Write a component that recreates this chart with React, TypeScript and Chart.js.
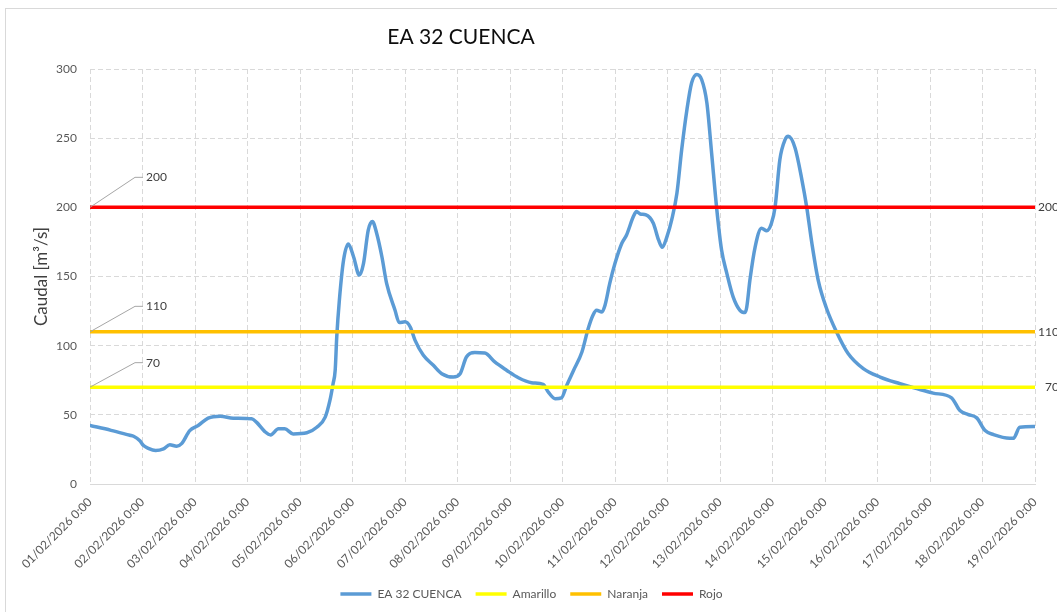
import React, { useEffect, useRef } from 'react';
import { Chart, registerables } from 'chart.js';

Chart.register(...registerables);

const chartTitle = 'EA 32 CUENCA';
const yAxisTitle = 'Caudal [m³/s]';
const seriesName = 'EA 32 CUENCA';

const tickLabels = [
  '01/02/2026 0:00', '02/02/2026 0:00', '03/02/2026 0:00', '04/02/2026 0:00',
  '05/02/2026 0:00', '06/02/2026 0:00', '07/02/2026 0:00', '08/02/2026 0:00',
  '09/02/2026 0:00', '10/02/2026 0:00', '11/02/2026 0:00', '12/02/2026 0:00',
  '13/02/2026 0:00', '14/02/2026 0:00', '15/02/2026 0:00', '16/02/2026 0:00',
  '17/02/2026 0:00', '18/02/2026 0:00', '19/02/2026 0:00',
];

// time in days since 01/02/2026 0:00
const timeDays = [
  0, 0.4, 0.76, 0.83, 0.95, 1.02, 1.1, 1.25, 1.4, 1.52, 1.65, 1.75, 1.9, 2.06, 2.25, 2.48,
  2.73, 3.08, 3.17, 3.33, 3.44, 3.59, 3.71, 3.87, 4.13, 4.32, 4.48, 4.57, 4.63, 4.67, 4.7,
  4.75, 4.83, 4.92, 5.02, 5.13, 5.21, 5.3, 5.38, 5.46, 5.56, 5.65, 5.81, 5.89, 6.0, 6.1,
  6.19, 6.35, 6.54, 6.7, 6.92, 7.05, 7.17, 7.33, 7.52, 7.71, 7.94, 8.16, 8.41, 8.63, 8.73,
  8.86, 8.98, 9.08, 9.21, 9.37, 9.49, 9.58, 9.65, 9.75, 9.81, 9.9, 10.0, 10.13, 10.22,
  10.35, 10.41, 10.48, 10.59, 10.73, 10.83, 10.9, 10.99, 11.08, 11.18, 11.27, 11.37, 11.46,
  11.56, 11.65, 11.75, 11.84, 11.94, 12.03, 12.13, 12.25, 12.38, 12.48, 12.51, 12.57, 12.67,
  12.79, 12.89, 12.98, 13.05, 13.14, 13.24, 13.3, 13.43, 13.56, 13.65, 13.75, 13.87, 14.03,
  14.22, 14.44, 14.73, 15.05, 15.43, 15.75, 16.06, 16.41, 16.57, 16.73, 16.89, 17.05, 17.21,
  17.52, 17.59, 17.71, 18,
];

const flowValues = [
  42.3, 38.8, 35.2, 34.5, 31.2, 27.8, 26, 24.2, 25.4, 28.3, 27.3, 29.4, 38.6, 42.3, 47.6, 49,
  47.6, 47.1, 44.7, 37.9, 35.5, 39.9, 39.9, 36.2, 37, 41, 48.3, 60.4, 72.5, 82.1, 106.3,
  132.9, 161.9, 173.5, 164.3, 151, 159.5, 183.6, 189.7, 181.3, 164.3, 145, 125.6, 116.7, 117.2, 113.5,
  104, 93, 85.8, 79.7, 77.3, 79.7, 91.8, 95, 94.7, 88.2, 82.1, 76.8, 73.2, 72, 66.4,
  61.6, 62.3, 71.3, 82.1, 95.4, 112.4, 122, 125.6, 124.4, 129.3, 145, 159.5, 174, 180,
  193.3, 196.9, 195.2, 194.5, 188.5, 176.4, 171.1, 178.8, 190.9, 210.3, 241.6, 270.6, 290,
  296, 292.4, 275.5, 239.3, 198.1, 169.1, 152.3, 135.3, 125.6, 124, 128, 147.4, 171.5,
  184.9, 183.1, 188.5, 200.5, 234.4, 248.9, 251.3, 242.9, 219.9, 200.5, 174, 147.4, 126.9,
  109.9, 94.3, 83.4, 77.3, 72.5, 68.9, 65.7, 62.3, 53.1, 50.2, 47.8, 38.6, 35.7,
  33.1, 33.1, 41, 41.5,
];

const thresholdNames = ['Amarillo', 'Naranja', 'Rojo'];
const thresholdValues = [70, 110, 200];
const thresholdColors = ['#FFFF00', '#FFC000', '#FF0000'];

const seriesColor = '#5B9BD5';
const FONT = 'Lato';

const decorPlugin = {
  id: 'decor',
  afterLayout(chart: any) {
    const lg = chart.legend;
    if (lg) {
      lg.left += 14;
      lg.right += 14;
    }
  },
  beforeDraw(chart: any) {
    const ctx = chart.ctx;
    ctx.save();
    ctx.fillStyle = '#ffffff';
    ctx.fillRect(0, 0, chart.width, chart.height);
    ctx.strokeStyle = '#d9d9d9';
    ctx.lineWidth = 1;
    ctx.strokeRect(5.5, 8.5, chart.width + 100, chart.height + 100);
    ctx.fillStyle = '#0d0d0d';
    ctx.font = `21px ${FONT}`;
    ctx.textAlign = 'center';
    ctx.textBaseline = 'middle';
    ctx.fillText(chartTitle, 461, 37);
    ctx.restore();
  },
  afterDatasetsDraw(chart: any) {
    const xs = chart.scales.x;
    const ys = chart.scales.y;
    const ctx = chart.ctx;
    const rises = [24.5, 25.5, 30];
    ctx.save();
    ctx.font = `12px ${FONT}`;
    thresholdValues.forEach((v, i) => {
      const py = ys.getPixelForValue(v);
      const px0 = xs.getPixelForValue(xs.min);
      const rise = rises[i];
      ctx.strokeStyle = '#a6a6a6';
      ctx.lineWidth = 1;
      ctx.beginPath();
      ctx.moveTo(px0, py);
      ctx.lineTo(px0 + 45, py - rise);
      ctx.lineTo(px0 + 53, py - rise);
      ctx.stroke();
      ctx.fillStyle = '#404040';
      ctx.textAlign = 'left';
      ctx.textBaseline = 'middle';
      ctx.fillText(String(v), px0 + 56, py - rise);
      ctx.textAlign = 'right';
      ctx.fillText(String(v), chart.width + 2, py);
    });
    ctx.restore();
  },
};

export default function App() {
  const canvasRef = useRef<HTMLCanvasElement | null>(null);

  useEffect(() => {
    if (!canvasRef.current) return;
    const flowData = timeDays.map((t, i) => ({ x: t, y: flowValues[i] }));
    const xMin = 0;
    const xMax = tickLabels.length - 1;

    const datasets: any[] = [
      {
        label: seriesName,
        data: flowData,
        borderColor: seriesColor,
        backgroundColor: seriesColor,
        borderWidth: 3.5,
        pointRadius: 0,
        cubicInterpolationMode: 'monotone',
        borderCapStyle: 'round',
        borderJoinStyle: 'round',
        order: 10,
      },
      ...thresholdNames.map((name, i) => ({
        label: name,
        data: [
          { x: xMin, y: thresholdValues[i] },
          { x: xMax, y: thresholdValues[i] },
        ],
        borderColor: thresholdColors[i],
        backgroundColor: thresholdColors[i],
        borderWidth: 3.5,
        pointRadius: 0,
        borderCapStyle: 'round',
        order: 5 - i,
      })),
    ];

    const chart = new Chart(canvasRef.current, {
      type: 'line',
      data: { datasets },
      plugins: [decorPlugin],
      options: {
        animation: false,
        responsive: true,
        maintainAspectRatio: false,
        layout: { padding: { left: 0, right: 22, top: 69, bottom: 2 } },
        plugins: {
          title: { display: false },
          tooltip: { enabled: false },
          legend: {
            position: 'bottom',
            labels: {
              usePointStyle: true,
              pointStyle: 'line',
              pointStyleWidth: 31,
              boxHeight: 12,
              padding: 14,
              color: '#595959',
              font: { family: FONT, size: 12 },
              sort: (a: any, b: any) => a.datasetIndex - b.datasetIndex,
            },
          },
        },
        scales: {
          x: {
            type: 'linear',
            min: xMin,
            max: xMax,
            ticks: {
              stepSize: 1,
              autoSkip: false,
              maxRotation: 45,
              minRotation: 45,
              padding: 11,
              color: '#595959',
              font: { family: FONT, size: 12 },
              callback: (v: any) => tickLabels[Math.round(Number(v))],
            },
            grid: { color: '#d9d9d9', lineWidth: 1, drawTicks: false },
            border: { display: true, color: '#d9d9d9', width: 1, dash: [5, 3] },
            afterFit: (scale: any) => {
              scale.height = 90;
            },
          },
          y: {
            min: 0,
            max: 300,
            ticks: {
              stepSize: 50,
              padding: 13,
              color: '#595959',
              font: { family: FONT, size: 12 },
            },
            grid: { color: '#d9d9d9', lineWidth: 1, drawTicks: false },
            border: { display: false, dash: [5, 3] },
            title: {
              display: true,
              text: yAxisTitle,
              color: '#404040',
              font: { family: FONT, size: 17 },
              padding: { top: 31, bottom: 0 },
            },
            afterFit: (scale: any) => {
              scale.width = 90;
            },
          },
        },
      },
    });
    return () => chart.destroy();
  }, []);

  return (
    <div style={{ position: 'fixed', left: 0, top: 0, width: 1057, height: 612, background: '#fff' }}>
      <canvas ref={canvasRef} />
    </div>
  );
}
